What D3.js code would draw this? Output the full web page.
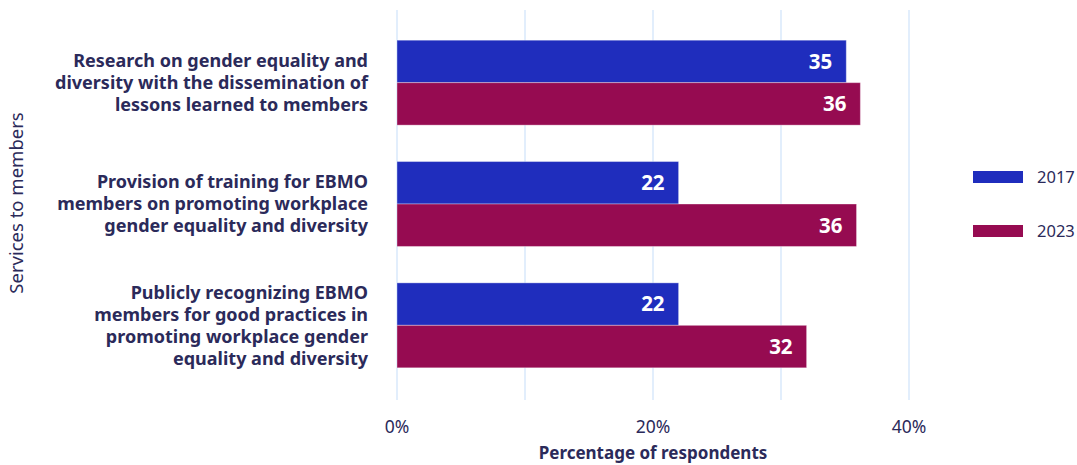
<!DOCTYPE html>
<html><head><meta charset="utf-8">
<script src="https://cdn.jsdelivr.net/npm/d3@7"></script>
<style>body{margin:0;background:#fff;font-family:"Noto Sans",sans-serif;}</style>
</head><body><svg id="c" width="1077" height="465"></svg>
<script>
const categories = [
  ["Research on gender equality and","diversity with the dissemination of","lessons learned to members"],
  ["Provision of training for EBMO","members on promoting workplace","gender equality and diversity"],
  ["Publicly recognizing EBMO","members for good practices in","promoting workplace gender","equality and diversity"]
];
const seriesNames = ["2017","2023"];
const values2017 = [35.1, 22, 22];
const values2023 = [36.2, 35.9, 32];
const xTicks = [0, 20, 40];
const gridTicks = [0, 10, 20, 30, 40];
const colors = ["#1f2dbd", "#960b51"];
const textColor = "#2b2a5a";

const svg = d3.select("#c");
const x = d3.scaleLinear().domain([0, 40]).range([397, 909]);
const y = d3.scaleBand().domain(d3.range(categories.length)).range([22, 386]).paddingInner(0.3).paddingOuter(0.15);
const ySub = d3.scaleBand().domain(seriesNames).range([0, y.bandwidth()]);

// grid
svg.append("g").selectAll("line").data(gridTicks).join("line")
  .attr("x1", d => x(d)).attr("x2", d => x(d)).attr("y1", 10).attr("y2", 400)
  .attr("stroke", "#cfe3fa").attr("stroke-width", 1.2);

const seriesVals = [values2017, values2023];
seriesNames.forEach((s, si) => {
  const g = svg.append("g");
  g.selectAll("rect").data(seriesVals[si]).join("rect")
    .attr("x", x(0)).attr("y", (d, i) => y(i) + ySub(s))
    .attr("width", d => x(d) - x(0)).attr("height", ySub.bandwidth())
    .attr("fill", colors[si]).attr("stroke", "rgba(255,255,255,0.35)").attr("stroke-width", 1);
  g.selectAll("text").data(seriesVals[si]).join("text")
    .attr("x", d => x(d) - 14).attr("y", (d, i) => y(i) + ySub(s) + ySub.bandwidth() / 2)
    .attr("dy", "0.36em").attr("text-anchor", "end")
    .attr("fill", "#fff").attr("font-weight", 700).attr("font-size", 20.5)
    .text(d => Math.round(d));
});

// category labels
const lh = 22;
categories.forEach((lines, i) => {
  const cy = y(i) + y.bandwidth() / 2;
  const t = svg.append("text").attr("text-anchor", "end").attr("fill", textColor)
    .attr("font-weight", 700).attr("font-size", 18);
  lines.forEach((l, j) => {
    t.append("tspan").attr("x", 368)
      .attr("y", cy + (j - (lines.length - 1) / 2) * lh).attr("dy", "0.35em").text(l);
  });
});

// x axis tick labels
svg.append("g").selectAll("text").data(xTicks).join("text")
  .attr("x", d => x(d)).attr("y", 427).attr("dy", "0.35em").attr("text-anchor", "middle")
  .attr("fill", textColor).attr("font-size", 17.5).text(d => d + "%");

svg.append("text").attr("x", x(20)).attr("y", 453).attr("dy", "0.35em").attr("text-anchor", "middle")
  .attr("fill", textColor).attr("font-weight", 700).attr("font-size", 17).text("Percentage of respondents");

svg.append("text").attr("transform", "translate(17,203) rotate(-90)").attr("dy", "0.35em")
  .attr("text-anchor", "middle").attr("fill", textColor).attr("font-size", 18.5).text("Services to members");

// legend
const lg = svg.append("g").selectAll("g").data(seriesNames).join("g")
  .attr("transform", (d, i) => `translate(973,${177 + i * 54})`);
lg.append("rect").attr("x", 0).attr("y", -6).attr("width", 50).attr("height", 12).attr("fill", (d, i) => colors[i]);
lg.append("text").attr("x", 64).attr("y", 0).attr("dy", "0.35em").attr("fill", textColor).attr("font-size", 16.5).text(d => d);
</script></body></html>
